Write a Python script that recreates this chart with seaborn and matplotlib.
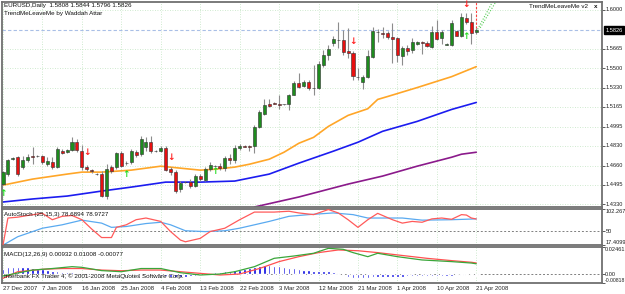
import numpy as np
import pandas as pd
import matplotlib
matplotlib.use("Agg")
import matplotlib.pyplot as plt
import seaborn as sns

# EURUSD daily candles (27 Dec 2007 .. 21 Apr 2008)
opens = [
    1.4502, 1.4588, 1.4716, 1.4733, 1.4648, 1.4707, 1.4742, 1.4742, 1.4742, 1.4673,
    1.4690, 1.4648, 1.4785, 1.4776, 1.4793, 1.4862, 1.4785, 1.4648, 1.4622, 1.4588,
    1.4588, 1.4399, 1.4648, 1.4648, 1.4767, 1.4682, 1.4690, 1.4776, 1.4759, 1.4819,
    1.4862, 1.4785, 1.4785, 1.4810, 1.4630, 1.4605, 1.4459, 1.4519, 1.4519, 1.4485,
    1.4571, 1.4536, 1.4630, 1.4656, 1.4656, 1.4639, 1.4725, 1.4707, 1.4810, 1.4827,
    1.4827, 1.4827, 1.4990, 1.5101, 1.5187, 1.5195, 1.5187, 1.5187, 1.5187, 1.5272,
    1.5375, 1.5349, 1.5384, 1.5332, 1.5332, 1.5529, 1.5615, 1.5718, 1.5743, 1.5743,
    1.5649, 1.5632, 1.5426, 1.5384, 1.5426, 1.5598, 1.5812, 1.5803, 1.5803, 1.5769,
    1.5760, 1.5606, 1.5675, 1.5658, 1.5709, 1.5726, 1.5718, 1.5683, 1.5812, 1.5760,
    1.5700, 1.5700, 1.5820, 1.5777, 1.5932, 1.5897, 1.5808]
highs = [
    1.4613, 1.4716, 1.4733, 1.4742, 1.4742, 1.4759, 1.4819, 1.4750, 1.4750, 1.4733,
    1.4733, 1.4819, 1.4802, 1.4802, 1.4904, 1.4887, 1.4836, 1.4665, 1.4630, 1.4596,
    1.4613, 1.4673, 1.4665, 1.4776, 1.4785, 1.4699, 1.4802, 1.4793, 1.4913, 1.4904,
    1.4913, 1.4793, 1.4827, 1.4827, 1.4648, 1.4622, 1.4528, 1.4528, 1.4545, 1.4588,
    1.4588, 1.4648, 1.4690, 1.4665, 1.4682, 1.4742, 1.4759, 1.4836, 1.4844, 1.4836,
    1.4836, 1.5007, 1.5135, 1.5230, 1.5230, 1.5212, 1.5272, 1.5195, 1.5281, 1.5392,
    1.5461, 1.5401, 1.5401, 1.5529, 1.5563, 1.5658, 1.5700, 1.5777, 1.5897, 1.5829,
    1.5846, 1.5649, 1.5504, 1.5444, 1.5658, 1.5855, 1.5837, 1.5855, 1.5820, 1.5889,
    1.5769, 1.5692, 1.5700, 1.5760, 1.5735, 1.5735, 1.5735, 1.5863, 1.5914, 1.5829,
    1.5718, 1.5914, 1.5829, 1.5974, 1.5974, 1.5974, 1.5844]
lows = [
    1.4493, 1.4571, 1.4707, 1.4571, 1.4630, 1.4690, 1.4673, 1.4733, 1.4673, 1.4656,
    1.4630, 1.4639, 1.4759, 1.4767, 1.4785, 1.4776, 1.4622, 1.4613, 1.4596, 1.4579,
    1.4391, 1.4374, 1.4596, 1.4630, 1.4648, 1.4665, 1.4673, 1.4733, 1.4742, 1.4785,
    1.4767, 1.4776, 1.4776, 1.4613, 1.4579, 1.4425, 1.4434, 1.4511, 1.4468, 1.4476,
    1.4528, 1.4528, 1.4613, 1.4648, 1.4622, 1.4613, 1.4673, 1.4682, 1.4793, 1.4819,
    1.4785, 1.4767, 1.4981, 1.5093, 1.5161, 1.5187, 1.5144, 1.5178, 1.5135, 1.5264,
    1.5332, 1.5341, 1.5307, 1.5272, 1.5324, 1.5512, 1.5572, 1.5692, 1.5675, 1.5615,
    1.5589, 1.5401, 1.5401, 1.5324, 1.5418, 1.5589, 1.5726, 1.5760, 1.5752, 1.5546,
    1.5555, 1.5529, 1.5615, 1.5632, 1.5700, 1.5623, 1.5683, 1.5675, 1.5743, 1.5709,
    1.5700, 1.5692, 1.5777, 1.5769, 1.5880, 1.5709, 1.5796]
closes = [
    1.4605, 1.4707, 1.4725, 1.4588, 1.4707, 1.4733, 1.4738, 1.4740, 1.4690, 1.4699,
    1.4648, 1.4802, 1.4767, 1.4793, 1.4862, 1.4793, 1.4648, 1.4630, 1.4613, 1.4585,
    1.4399, 1.4630, 1.4613, 1.4767, 1.4656, 1.4680, 1.4785, 1.4750, 1.4887, 1.4862,
    1.4785, 1.4783, 1.4810, 1.4622, 1.4605, 1.4442, 1.4511, 1.4517, 1.4485, 1.4571,
    1.4545, 1.4630, 1.4665, 1.4654, 1.4639, 1.4725, 1.4707, 1.4810, 1.4827, 1.4825,
    1.4823, 1.4990, 1.5118, 1.5178, 1.5170, 1.5193, 1.5185, 1.5189, 1.5272, 1.5375,
    1.5341, 1.5384, 1.5332, 1.5330, 1.5538, 1.5615, 1.5666, 1.5752, 1.5741, 1.5640,
    1.5632, 1.5435, 1.5424, 1.5426, 1.5606, 1.5820, 1.5810, 1.5795, 1.5769, 1.5752,
    1.5615, 1.5675, 1.5649, 1.5726, 1.5726, 1.5718, 1.5692, 1.5812, 1.5752, 1.5812,
    1.5709, 1.5889, 1.5777, 1.5940, 1.5897, 1.5803, 1.5826]

# moving averages (read at a few bars)
ma_fast_bars = [0, 6, 13, 16, 20, 23, 26, 32, 36, 40, 43, 47, 50, 54, 57, 60, 63, 66, 70, 74, 76, 78, 84, 91, 96]
ma_fast = [1.4493, 1.4545, 1.4588, 1.4605, 1.4605, 1.4613, 1.4622, 1.4656, 1.4639, 1.4622,
           1.4630, 1.4648, 1.4673, 1.4716, 1.4776, 1.4853, 1.4904, 1.4998, 1.5093, 1.5150,
           1.5230, 1.5255, 1.5332, 1.5426, 1.5512]
ma_mid_bars = [0, 6, 13, 20, 26, 33, 40, 47, 54, 60, 67, 72, 77, 84, 91, 96]
ma_mid = [1.4348, 1.4374, 1.4399, 1.4442, 1.4476, 1.4519, 1.4519, 1.4528, 1.4588, 1.4682,
          1.4785, 1.4862, 1.4956, 1.5041, 1.5144, 1.5204]
ma_slow_bars = [51, 60, 70, 77, 84, 91, 93, 96]
ma_slow = [1.4305, 1.4391, 1.4502, 1.4571, 1.4656, 1.4733, 1.4759, 1.4776]

# signal arrows
sell_bars = [17, 34, 71, 94]
sell_prices = [1.4776, 1.4733, 1.5726, 1.6043]
buy_bars = [0, 25, 43, 94]
buy_prices = [1.4417, 1.4588, 1.4613, 1.5769]

# trend channel drawn by the indicator
trend_bars_a = [96, 99.5]
trend_a = [1.5812, 1.6086]
trend_bars_b = [96.8, 100.2]
trend_b = [1.5846, 1.6086]

# AutoStoch(25,15,3)
stoch_bars = [0, 1, 3, 5, 8, 10, 12, 14, 16, 18, 20, 22, 23, 25, 27, 29, 32, 34, 36, 37, 40, 42, 45,
              48, 51, 55, 58, 60, 63, 66, 68, 70, 72, 74, 76, 79, 81, 83, 85, 87, 89, 91, 93, 94, 95, 96]
stoch_main = [17, 81, 83, 87, 92, 77, 85, 87, 77, 55, 35, 35, 59, 65, 77, 81, 73, 49, 29, 25, 33, 49, 57,
              77, 95, 95, 97, 93, 89, 101, 93, 77, 59, 77, 92, 77, 69, 73, 71, 79, 81, 78, 89, 88, 81, 78.69]
stoch_sig_bars = [0, 3, 8, 12, 16, 20, 22, 25, 29, 32, 34, 37, 41, 45, 48, 54, 58, 62, 67, 71, 74, 81, 85, 91, 96]
stoch_sig = [17, 37, 57, 65, 76, 69, 59, 61, 68, 71, 65, 51, 49, 51, 57, 73, 85, 89, 93, 89, 81, 81, 76, 77, 78.97]

# MACD(12,26,9)
macd_bars = [0, 6, 10, 14, 16, 20, 24, 28, 32, 36, 40, 44, 47, 51, 55, 59, 63, 66, 69, 71, 74, 76, 80, 85, 91, 95, 96]
macd_main = [-0.0018, 0.0036, 0.0050, 0.0067, 0.0061, 0.0031, 0.0021, 0.0050, 0.0050, 0.0012, -0.0009,
             0.0000, 0.0021, 0.0067, 0.0143, 0.0164, 0.0189, 0.0234, 0.0225, 0.0195, 0.0158, 0.0189,
             0.0158, 0.0128, 0.0113, 0.0100, 0.00932]
macd_sig_bars = [0, 3, 8, 12, 16, 20, 24, 28, 32, 36, 40, 44, 48, 52, 56, 60, 64, 68, 72, 76, 80, 86, 91, 95, 96]
macd_sig = [-0.0039, 0.0021, 0.0043, 0.0050, 0.0050, 0.0036, 0.0030, 0.0036, 0.0036, 0.0021, 0.0006,
            -0.0009, 0.0000, 0.0050, 0.0113, 0.0158, 0.0195, 0.0219, 0.0212, 0.0195, 0.0174, 0.0143,
            0.0122, 0.0107, 0.01008]
macd_hist = [
    0.0043, 0.0061, 0.0067, 0.0067, 0.0061, 0.0061, 0.0055, 0.0050, 0.0043, 0.0035, 0.0030, 0.0025,
    0.0021, 0.0018, 0.0015, 0.0013, 0.0012, 0.0012, 0.0010, 0.0008, 0.0005,
    0.0005, 0.0008, 0.0010, 0.0012, 0.0013, 0.0013, 0.0012, 0.0010, 0.0006, 0.0002,
    -0.0008, -0.0015, -0.0020, -0.0024, -0.0026, -0.0026, -0.0024, -0.0020, -0.0015, -0.0010,
    0.0003, 0.0010, 0.0015, 0.0020, 0.0024, 0.0028, 0.0033, 0.0040,
    0.0048, 0.0058, 0.0066, 0.0075, 0.0082, 0.0080, 0.0075,
    0.0070, 0.0065, 0.0058, 0.0052, 0.0046, 0.0040, 0.0035, 0.0032, 0.0030, 0.0028, 0.0026, 0.0020, 0.0012,
    -0.0010, -0.0030, -0.0040, -0.0040, -0.0035,
    -0.0032, -0.0030, -0.0030, -0.0028, -0.0026, -0.0025, -0.0025, -0.0024, -0.0022, -0.0022, -0.0020,
    -0.0020, -0.0018, -0.0018, -0.0016, -0.0016, -0.0015, -0.0014, -0.0013, -0.0012, -0.0010, -0.0009, -0.00077]

date_labels = ["27 Dec 2007", "7 Jan 2008", "16 Jan 2008", "25 Jan 2008", "4 Feb 2008", "13 Feb 2008",
               "22 Feb 2008", "3 Mar 2008", "12 Mar 2008", "21 Mar 2008", "1 Apr 2008", "10 Apr 2008",
               "21 Apr 2008"]
date_bars = [0, 8, 16, 24, 32, 40, 48, 56, 64, 72, 80, 88, 96]
price_ticks = [1.6000, 1.5665, 1.5500, 1.5330, 1.5165, 1.4995, 1.4830, 1.4660, 1.4495, 1.4330]
last_price = 1.5826

sns.set_style("white")
plt.rcParams["font.family"] = ["Liberation Sans", "DejaVu Sans"]
FS = 4.5      # text inside the panels
FS_AX = 4.1   # right-hand scale labels
GRID = "#bfe3bf"
FRAME = "#707070"
TXT = "#101010"

df = pd.DataFrame({"open": opens, "high": highs, "low": lows, "close": closes})
df["bar"] = np.arange(len(df))
up = df["close"] > df["open"]
flat = df["close"] == df["open"]

fig = plt.figure(figsize=(6.25, 2.94), dpi=100)
W, H = 625, 294


def box(x0, y0, x1, y1):
    return [x0 / W, 1 - y1 / H, (x1 - x0) / W, (y1 - y0) / H]


ax = fig.add_axes(box(2, 2, 602, 207))
ax_st = fig.add_axes(box(2, 209, 602, 245), sharex=ax)
ax_md = fig.add_axes(box(2, 247, 602, 283), sharex=ax)

for a in (ax, ax_st, ax_md):
    a.set_facecolor("white")
    for s in a.spines.values():
        s.set_color(FRAME)
        s.set_linewidth(1.3)
    for b in date_bars:
        a.axvline(b, color=GRID, lw=0.6, ls=(0, (1, 2)), zorder=0)
    a.yaxis.tick_right()
    a.tick_params(axis="y", length=2, width=0.6, color="#404040", labelright=False, labelleft=False)
    a.tick_params(axis="x", length=0, labelbottom=False)

ax.set_xlim(-0.2, 121.5)

# ---- main price panel ----
ax.set_ylim(1.4305, 1.6068)
ax.set_yticks(price_ticks)
for p in price_ticks:
    ax.axhline(p, color=GRID, lw=0.6, ls=(0, (1, 2)), zorder=0)
    ax.text(1.006, p, f"{p:.4f}", transform=ax.get_yaxis_transform(), fontsize=FS_AX,
            va="center", ha="left", color="#202020", clip_on=False)
ax.axhline(last_price, color="#a9bfe6", lw=0.8, ls=(0, (3, 2)), zorder=1)
ax.text(1.006, last_price, f"{last_price:.4f}", transform=ax.get_yaxis_transform(), fontsize=FS_AX,
        va="center", ha="left", color="white", clip_on=False,
        bbox=dict(boxstyle="square,pad=0.25", fc="black", ec="black"))

sns.lineplot(x=ma_fast_bars, y=ma_fast, ax=ax, color="#ffa628", lw=1.2, zorder=2)
sns.lineplot(x=ma_mid_bars, y=ma_mid, ax=ax, color="#1c1cf0", lw=1.2, zorder=2)
sns.lineplot(x=ma_slow_bars, y=ma_slow, ax=ax, color="#8b1a8b", lw=1.2, zorder=2)

ax.vlines(df["bar"], df["low"], df["high"], color="#8c8c8c", lw=0.8, zorder=3)
body_h = (df["close"] - df["open"]).abs().clip(lower=0.00022)
body_b = df[["open", "close"]].min(axis=1)
body_c = np.where(up, "#1e8c1e", np.where(flat, "#202020", "#e81010"))
ax.bar(df["bar"], body_h, bottom=body_b, width=0.62, color=body_c,
       edgecolor="#303030", lw=0.4, zorder=4)

for b, p in zip(sell_bars, sell_prices):
    ax.text(b, p, "\u2193", color="#ff2020", fontsize=6.5, fontweight="bold", ha="center", va="center",
            zorder=5, family="DejaVu Sans")
for b, p in zip(buy_bars, buy_prices):
    ax.text(b, p, "\u2191", color="#22dd22", fontsize=6.5, fontweight="bold", ha="center", va="center",
            zorder=5, family="DejaVu Sans")

ax.vlines(96, 1.5812, 1.6068, color="#ff4040", lw=0.8, ls=(0, (2, 1.5)), zorder=2)
sns.lineplot(x=trend_bars_a, y=trend_a, ax=ax, color="#55cc55", lw=0.8, ls=(0, (1, 1.5)))
sns.lineplot(x=trend_bars_b, y=trend_b, ax=ax, color="#55cc55", lw=0.8, ls=(0, (1, 1.5)))

ax.set_xlabel("")
ax.set_ylabel("")
fig.text(4 / W, 1 - 6 / H, "EURUSD,Daily  1.5808 1.5844 1.5796 1.5826", fontsize=FS, va="center", color=TXT)
fig.text(4 / W, 1 - 13 / H, "TrendMeLeaveMe by Waddah Attar", fontsize=FS, va="center", color=TXT)
fig.text(588 / W, 1 - 7 / H, "TrendMeLeaveMe v2", fontsize=FS, va="center", ha="right", color=TXT)
fig.text(596 / W, 1 - 7 / H, "x", fontsize=FS, va="center", ha="center", fontweight="bold", color=TXT)

# ---- AutoStoch panel ----
ax_st.set_ylim(17.4099, 102.267)
ax_st.set_yticks([102.267, 50, 17.4099])
ax_st.axhline(50, color="#808080", lw=0.7, ls=(0, (2, 2)), zorder=1)
sns.lineplot(x=stoch_sig_bars, y=stoch_sig, ax=ax_st, color="#5aaaf0", lw=0.9, zorder=2)
sns.lineplot(x=stoch_bars, y=stoch_main, ax=ax_st, color="#ff5a5a", lw=0.9, zorder=3)
for v, lab, va in [(102.267, "102.267", "top"), (50, "50", "center"), (17.4099, "17.4099", "bottom")]:
    ax_st.text(1.006, v, lab, transform=ax_st.get_yaxis_transform(), fontsize=FS_AX, va=va, ha="left",
               color="#202020", clip_on=False)
ax_st.text(0.004, 0.84, "AutoStoch (25,15,3) 78.6894 78.9727", transform=ax_st.transAxes,
           fontsize=FS, va="center", color=TXT)
ax_st.set_xlabel("")
ax_st.set_ylabel("")

# ---- MACD panel ----
ax_md.set_ylim(-0.00818, 0.02461)
ax_md.set_yticks([0.02461, 0.0, -0.00818])
ax_md.axhline(0, color="#808080", lw=0.7, ls=(0, (2, 2)), zorder=1)
ax_md.bar(np.arange(len(macd_hist)), macd_hist, width=0.5, color="#0505e0", zorder=2)
sns.lineplot(x=macd_sig_bars, y=macd_sig, ax=ax_md, color="#ff5050", lw=0.9, zorder=3)
sns.lineplot(x=macd_bars, y=macd_main, ax=ax_md, color="#3aa63a", lw=0.9, zorder=4)
for v, lab, va, fs in [(0.02461, "0.02461", "top", FS_AX), (0.0, "0.00", "center", FS_AX),
                       (-0.00818, "-0.00818", "bottom", 3.7)]:
    ax_md.text(1.004, v, lab, transform=ax_md.get_yaxis_transform(), fontsize=fs, va=va, ha="left",
               color="#202020", clip_on=False)
ax_md.text(0.004, 0.78, "MACD(12,26,9) 0.00932 0.01008 -0.00077", transform=ax_md.transAxes,
           fontsize=FS, va="center", color=TXT)
ax_md.text(0.004, 0.2, "Interbank FX Trader 4, \u00a9 2001-2008 MetaQuotes Software Corp.",
           transform=ax_md.transAxes, fontsize=FS, va="center", color=TXT, zorder=6)
ax_md.set_xlabel("")
ax_md.set_ylabel("")

ax_md.set_xticks(date_bars)
ax_md.set_xticklabels(date_labels)
ax_md.tick_params(axis="x", length=2, width=0.6, color="#404040", labelbottom=True,
                  labelsize=4.3, pad=0.5, direction="out")
for lab in ax_md.get_xticklabels():
    lab.set_ha("left")

fig.savefig("out.png", dpi=100, facecolor="white")
